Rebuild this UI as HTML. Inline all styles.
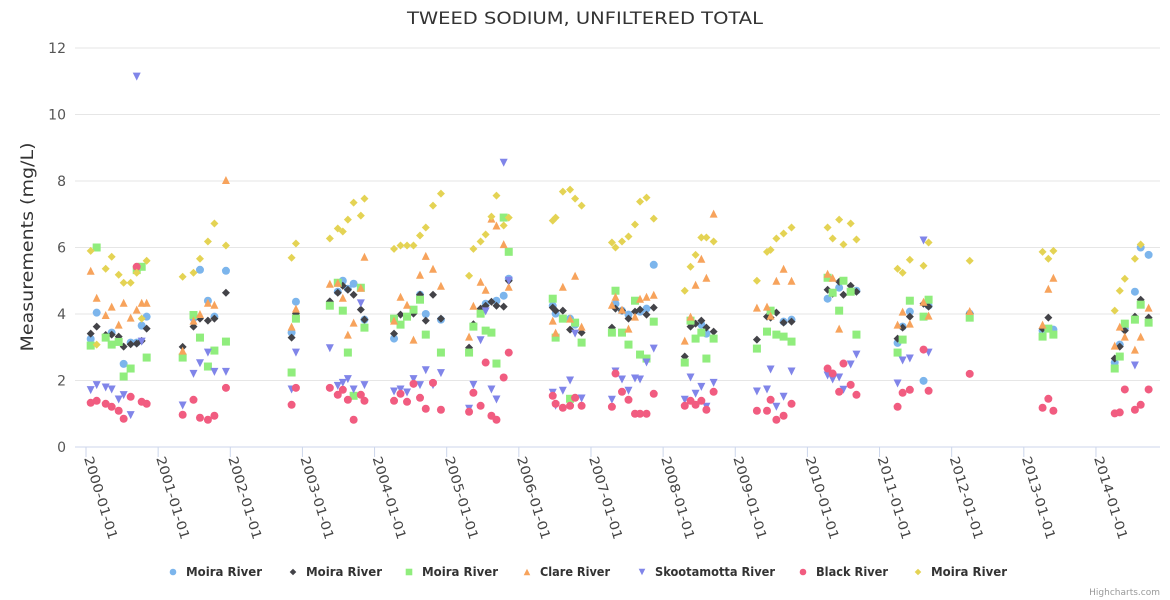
<!DOCTYPE html>
<html><head><meta charset="utf-8"><style>
body{margin:0;background:#fff;font-family:"DejaVu Sans",sans-serif}
svg{display:block;font-family:"DejaVu Sans",sans-serif}
</style></head><body>
<svg id="chart" width="1170" height="600" xmlns="http://www.w3.org/2000/svg">
<rect width="1170" height="600" fill="#fff"/>
<text x="585" y="24" text-anchor="middle" font-size="17" fill="#333" textLength="356" lengthAdjust="spacingAndGlyphs">TWEED SODIUM, UNFILTERED TOTAL</text>
<text transform="translate(33,247) rotate(-90)" text-anchor="middle" font-size="17" fill="#333" textLength="209" lengthAdjust="spacingAndGlyphs">Measurements (mg/L)</text>
<g id="grid"></g><g id="xaxis"></g><g id="marks"></g><g id="legend"></g>
<text x="1160" y="595" text-anchor="end" font-size="9" fill="#999">Highcharts.com</text>
</svg>
<script>
const yTicks=[0,2,4,6,8,10,12];
const xTickLabels=["2000-01-01","2001-01-01","2002-01-01","2003-01-01","2004-01-01","2005-01-01","2006-01-01","2007-01-01","2008-01-01","2009-01-01","2010-01-01","2011-01-01","2012-01-01","2013-01-01","2014-01-01"];
const seriesNames=["Moira River","Moira River","Moira River","Clare River","Skootamotta River","Black River","Moira River"];
const seriesColors=["#7cb5ec","#434348","#90ed7d","#f7a35c","#8085e9","#f15c80","#e4d354"];
const seriesShapes=["circle","diamond","square","triangle","triangle-down","circle","diamond"];
// [decimal year, value]
const moira1=[[2000.065,3.25],[2000.148,4.04],[2000.356,3.44],[2000.522,2.5],[2000.619,3.14],[2000.703,3.14],[2000.772,3.65],[2000.841,3.92],
[2001.49,3.87],[2001.58,5.33],[2001.69,4.4],[2001.78,3.92],[2001.94,5.3],[2002.85,3.44],[2002.91,4.37],
[2003.49,4.67],[2003.56,5.0],[2003.63,4.76],[2003.71,4.91],[2003.86,3.83],[2004.27,3.26],[2004.63,4.58],[2004.71,4.0],[2004.92,3.83],
[2005.54,4.31],[2005.69,4.4],[2005.79,4.55],[2005.86,5.06],[2006.47,4.25],[2006.51,4.01],[2006.71,3.86],[2006.78,3.68],
[2007.34,4.31],[2007.43,4.1],[2007.52,3.98],[2007.68,4.07],[2007.77,4.16],[2007.87,5.48],[2008.38,3.77],[2008.53,3.68],[2008.6,3.41],
[2009.67,3.77],[2009.78,3.83],[2010.28,4.46],[2010.44,4.79],[2010.68,4.7],[2011.25,3.13],[2011.32,3.62],[2011.42,4.07],[2011.61,1.99],[2011.68,4.25],
[2012.25,4.01],[2013.26,3.5],[2013.41,3.53],[2014.26,2.54],[2014.33,3.08],[2014.4,3.56],[2014.54,4.67],[2014.62,6.0],[2014.73,5.78]];
const moira2=[[2000.065,3.41],[2000.148,3.62],[2000.273,3.37],[2000.356,3.38],[2000.453,3.32],[2000.522,3.02],[2000.619,3.09],[2000.703,3.11],[2000.772,3.19],[2000.841,3.56],
[2001.34,3.01],[2001.49,3.62],[2001.58,3.86],[2001.69,3.8],[2001.78,3.86],[2001.94,4.64],[2002.85,3.29],[2002.91,4.01],
[2003.38,4.38],[2003.49,4.64],[2003.56,4.85],[2003.63,4.73],[2003.71,4.58],[2003.81,4.13],[2003.86,3.83],
[2004.27,3.41],[2004.36,3.98],[2004.54,4.01],[2004.63,4.58],[2004.71,3.8],[2004.81,4.58],[2004.92,3.86],
[2005.31,2.99],[2005.37,3.69],[2005.47,4.16],[2005.54,4.25],[2005.62,4.37],[2005.69,4.25],[2005.79,4.22],[2005.86,5.0],
[2006.47,4.19],[2006.51,4.1],[2006.61,4.1],[2006.71,3.53],[2006.87,3.44],
[2007.29,3.59],[2007.34,4.16],[2007.43,4.1],[2007.52,3.86],[2007.61,4.07],[2007.68,4.13],[2007.77,3.98],[2007.87,4.19],
[2008.3,2.72],[2008.38,3.62],[2008.45,3.71],[2008.53,3.8],[2008.6,3.59],[2008.7,3.47],
[2009.3,3.23],[2009.44,3.92],[2009.49,3.89],[2009.57,4.04],[2009.67,3.74],[2009.78,3.77],
[2010.28,4.73],[2010.35,4.61],[2010.44,4.97],[2010.5,4.58],[2010.6,4.85],[2010.68,4.67],
[2011.25,3.26],[2011.32,3.59],[2011.42,3.92],[2011.61,4.31],[2011.68,4.22],[2012.25,4.01],[2013.26,3.56],[2013.34,3.89],
[2014.26,2.66],[2014.33,3.02],[2014.4,3.5],[2014.54,3.92],[2014.62,4.43],[2014.73,3.89]];
const moira3=[[2000.065,3.05],[2000.148,6.0],[2000.273,3.29],[2000.356,3.08],[2000.453,3.16],[2000.522,2.12],[2000.619,2.36],[2000.703,5.32],[2000.772,5.42],[2000.841,2.69],
[2001.34,2.69],[2001.49,3.97],[2001.58,3.29],[2001.69,2.42],[2001.78,2.9],[2001.94,3.17],[2002.85,2.24],[2002.91,3.86],
[2003.38,4.25],[2003.49,4.94],[2003.56,4.1],[2003.63,2.84],[2003.71,1.54],[2003.81,4.79],[2003.86,3.59],
[2004.27,3.86],[2004.36,3.68],[2004.45,3.92],[2004.54,4.13],[2004.63,4.43],[2004.71,3.38],[2004.92,2.84],
[2005.31,2.84],[2005.37,3.62],[2005.47,4.01],[2005.54,3.5],[2005.62,3.44],[2005.69,2.51],[2005.79,6.9],[2005.86,5.87],
[2006.47,4.46],[2006.51,3.29],[2006.61,3.86],[2006.71,1.45],[2006.78,3.74],[2006.87,3.14],
[2007.29,3.44],[2007.34,4.7],[2007.43,3.44],[2007.52,3.08],[2007.61,4.4],[2007.68,2.78],[2007.77,2.66],[2007.87,3.77],
[2008.3,2.54],[2008.38,3.8],[2008.45,3.26],[2008.53,3.44],[2008.6,2.66],[2008.7,3.26],
[2009.3,2.96],[2009.44,3.47],[2009.49,4.1],[2009.57,3.38],[2009.67,3.32],[2009.78,3.17],
[2010.28,5.09],[2010.35,4.64],[2010.44,4.1],[2010.5,5.0],[2010.6,4.67],[2010.68,3.38],
[2011.25,2.84],[2011.32,3.23],[2011.42,4.4],[2011.61,3.92],[2011.68,4.43],[2012.25,3.89],[2013.26,3.32],[2013.34,3.56],[2013.41,3.38],
[2014.26,2.36],[2014.33,2.72],[2014.4,3.71],[2014.54,3.83],[2014.62,4.28],[2014.73,3.74]];
const clare=[[2000.065,5.3],[2000.148,4.49],[2000.273,3.97],[2000.356,4.22],[2000.453,3.68],[2000.522,4.34],[2000.619,3.89],[2000.703,4.13],[2000.772,4.34],[2000.841,4.34],
[2001.34,2.9],[2001.49,3.8],[2001.58,4.0],[2001.69,4.34],[2001.78,4.28],[2001.94,8.03],[2002.85,3.62],[2002.91,4.16],
[2003.38,4.91],[2003.49,4.94],[2003.56,4.49],[2003.63,3.38],[2003.71,3.74],[2003.81,4.79],[2003.86,5.72],
[2004.27,3.8],[2004.36,4.52],[2004.45,4.28],[2004.54,3.23],[2004.63,5.18],[2004.71,5.75],[2004.81,5.36],[2004.92,4.85],
[2005.31,3.32],[2005.37,4.25],[2005.47,4.97],[2005.54,4.73],[2005.62,6.87],[2005.69,6.66],[2005.79,6.1],[2005.86,4.82],
[2006.47,3.8],[2006.51,3.44],[2006.61,4.82],[2006.71,3.86],[2006.78,5.15],[2006.87,3.62],
[2007.29,4.28],[2007.34,4.52],[2007.43,4.13],[2007.52,3.56],[2007.61,3.92],[2007.68,4.46],[2007.77,4.52],[2007.87,4.58],
[2008.3,3.2],[2008.38,3.92],[2008.45,4.88],[2008.53,5.66],[2008.6,5.09],[2008.7,7.02],
[2009.3,4.19],[2009.44,4.22],[2009.49,3.95],[2009.57,5.0],[2009.67,5.36],[2009.78,5.0],
[2010.28,5.21],[2010.35,5.09],[2010.44,3.56],[2011.25,3.68],[2011.32,4.07],[2011.42,3.71],[2011.61,4.37],[2011.68,3.95],
[2012.25,4.09],[2013.26,3.68],[2013.34,4.76],[2013.41,5.09],
[2014.26,3.05],[2014.33,3.62],[2014.4,3.32],[2014.54,2.93],[2014.62,3.32],[2014.73,4.19]];
const skoot=[[2000.065,1.71],[2000.148,1.86],[2000.273,1.79],[2000.356,1.73],[2000.453,1.43],[2000.522,1.56],[2000.619,0.96],[2000.703,11.14],[2000.772,3.17],
[2001.34,1.25],[2001.49,2.2],[2001.58,2.52],[2001.69,2.84],[2001.78,2.26],[2001.94,2.26],[2002.85,1.73],[2002.91,2.84],
[2003.38,2.97],[2003.49,1.84],[2003.56,1.93],[2003.63,2.04],[2003.71,1.73],[2003.81,4.32],[2003.86,1.86],
[2004.27,1.67],[2004.36,1.73],[2004.45,1.64],[2004.54,2.04],[2004.63,1.86],[2004.71,2.31],[2004.81,1.86],[2004.92,2.22],
[2005.31,1.15],[2005.37,1.87],[2005.47,3.21],[2005.54,4.08],[2005.62,1.73],[2005.69,1.43],[2005.79,8.55],[2005.86,5.0],
[2006.47,1.63],[2006.51,1.24],[2006.61,1.69],[2006.71,2.0],[2006.78,3.41],[2006.87,1.46],
[2007.29,1.42],[2007.34,2.27],[2007.43,2.03],[2007.52,1.69],[2007.61,2.06],[2007.68,2.03],[2007.77,2.54],[2007.87,2.96],
[2008.3,1.42],[2008.38,2.09],[2008.45,1.6],[2008.53,1.81],[2008.6,1.21],[2008.7,1.93],
[2009.3,1.67],[2009.44,1.73],[2009.49,2.33],[2009.57,1.21],[2009.67,1.51],[2009.78,2.27],
[2010.28,2.15],[2010.35,2.03],[2010.44,2.09],[2010.5,1.72],[2010.6,2.48],[2010.68,2.78],
[2011.25,1.91],[2011.32,2.6],[2011.42,2.66],[2011.61,6.21],[2011.68,2.84],[2014.54,2.45]];
const black=[[2000.065,1.33],[2000.148,1.39],[2000.273,1.3],[2000.356,1.21],[2000.453,1.09],[2000.522,0.85],[2000.619,1.51],[2000.703,5.42],[2000.772,1.36],[2000.841,1.3],
[2001.34,0.97],[2001.49,1.42],[2001.58,0.88],[2001.69,0.82],[2001.78,0.94],[2001.94,1.78],[2002.85,1.27],[2002.91,1.78],
[2003.38,1.78],[2003.49,1.57],[2003.56,1.72],[2003.63,1.42],[2003.71,0.82],[2003.81,1.57],[2003.86,1.39],
[2004.27,1.39],[2004.36,1.6],[2004.45,1.36],[2004.54,1.9],[2004.63,1.48],[2004.71,1.15],[2004.81,1.93],[2004.92,1.12],
[2005.31,1.06],[2005.37,1.63],[2005.47,1.24],[2005.54,2.54],[2005.62,0.94],[2005.69,0.82],[2005.79,2.09],[2005.86,2.84],
[2006.47,1.54],[2006.51,1.3],[2006.61,1.18],[2006.71,1.24],[2006.78,1.48],[2006.87,1.24],
[2007.29,1.21],[2007.34,2.21],[2007.43,1.66],[2007.52,1.42],[2007.61,1.0],[2007.68,1.0],[2007.77,1.0],[2007.87,1.6],
[2008.3,1.24],[2008.38,1.39],[2008.45,1.27],[2008.53,1.39],[2008.6,1.12],[2008.7,1.66],
[2009.3,1.09],[2009.44,1.09],[2009.49,1.42],[2009.57,0.82],[2009.67,0.94],[2009.78,1.3],
[2010.28,2.36],[2010.35,2.21],[2010.44,1.66],[2010.5,2.51],[2010.6,1.87],[2010.68,1.57],
[2011.25,1.21],[2011.32,1.63],[2011.42,1.72],[2011.61,2.93],[2011.68,1.69],[2012.25,2.2],
[2013.26,1.18],[2013.34,1.45],[2013.41,1.09],[2014.26,1.01],[2014.33,1.04],[2014.4,1.73],[2014.54,1.12],[2014.62,1.27],[2014.73,1.73]];
const moira4=[[2000.065,5.9],[2000.148,3.08],[2000.273,5.36],[2000.356,5.72],[2000.453,5.18],[2000.522,4.94],[2000.619,4.94],[2000.703,5.24],[2000.772,3.86],[2000.841,5.6],
[2001.34,5.12],[2001.49,5.24],[2001.58,5.66],[2001.69,6.18],[2001.78,6.72],[2001.94,6.06],[2002.85,5.69],[2002.91,6.12],
[2003.38,6.27],[2003.49,6.57],[2003.56,6.48],[2003.63,6.84],[2003.71,7.35],[2003.81,6.96],[2003.86,7.47],
[2004.27,5.96],[2004.36,6.06],[2004.45,6.06],[2004.54,6.06],[2004.63,6.36],[2004.71,6.6],[2004.81,7.26],[2004.92,7.62],
[2005.31,5.15],[2005.37,5.96],[2005.47,6.18],[2005.54,6.39],[2005.62,6.93],[2005.69,7.56],[2005.79,6.66],[2005.86,6.9],
[2006.47,6.81],[2006.51,6.9],[2006.61,7.68],[2006.71,7.74],[2006.78,7.47],[2006.87,7.26],
[2007.29,6.15],[2007.34,6.0],[2007.43,6.18],[2007.52,6.33],[2007.61,6.69],[2007.68,7.38],[2007.77,7.5],[2007.87,6.87],
[2008.3,4.7],[2008.38,5.42],[2008.45,5.78],[2008.53,6.3],[2008.6,6.3],[2008.7,6.18],
[2009.3,5.0],[2009.44,5.87],[2009.49,5.93],[2009.57,6.27],[2009.67,6.42],[2009.78,6.6],
[2010.28,6.6],[2010.35,6.27],[2010.44,6.84],[2010.5,6.09],[2010.6,6.72],[2010.68,6.24],
[2011.25,5.36],[2011.32,5.24],[2011.42,5.63],[2011.61,5.45],[2011.68,6.15],[2012.25,5.6],
[2013.26,5.87],[2013.34,5.66],[2013.41,5.9],[2014.26,4.1],[2014.33,4.7],[2014.4,5.06],[2014.54,5.66],[2014.62,6.09]];
const allSeries=[moira1,moira2,moira3,clare,skoot,black,moira4];

const NS="http://www.w3.org/2000/svg";
const L=75,R=1160,T=48,B=447;
const xS=y=>86+(y-2000)*72.14;
const yS=v=>B-(v/12)*(B-T);
function mk(tag,attrs,parent){const e=document.createElementNS(NS,tag);for(const k in attrs)e.setAttribute(k,attrs[k]);parent.appendChild(e);return e;}
const grid=document.getElementById('grid');
yTicks.forEach(t=>{
  const ln=mk('line',{x1:L,x2:R,y1:yS(t),y2:yS(t),stroke:t===0?'#ccd6eb':'#e6e6e6','stroke-width':1},grid);
  
  
  const tx=mk('text',{x:66,y:yS(t)+5,'text-anchor':'end','font-size':14,fill:'#555'},grid);
  tx.textContent=t;
  
  
});
const xa=document.getElementById('xaxis');
xTickLabels.forEach((lab,i)=>{
  const x=xS(2000+i);
  const tk=mk('line',{x1:x,x2:x,y1:B,y2:B+10,stroke:'#ccd6eb'},xa);
  
  
  const tx=mk('text',{transform:`translate(${x-2},${B+11}) rotate(73)`,'font-size':13,fill:'#444',textLength:86,lengthAdjust:'spacingAndGlyphs'},xa);
  tx.textContent=lab;
  
  
});
function shape(kind,cx,cy,color,parent,r){
  r=r||4;let e;
  if(kind==='circle')e=mk('circle',{cx,cy,r,fill:color},parent);
  else if(kind==='diamond')e=mk('path',{d:`M${cx},${cy-r}L${cx+r},${cy}L${cx},${cy+r}L${cx-r},${cy}Z`,fill:color},parent);
  else if(kind==='square')e=mk('rect',{x:cx-r,y:cy-r,width:2*r,height:2*r,fill:color},parent);
  else if(kind==='triangle')e=mk('path',{d:`M${cx},${cy-r}L${cx+r},${cy+r}L${cx-r},${cy+r}Z`,fill:color},parent);
  else e=mk('path',{d:`M${cx-r},${cy-r}L${cx+r},${cy-r}L${cx},${cy+r}Z`,fill:color},parent);
  return e;
}
const marks=document.getElementById('marks');
allSeries.forEach((s,si)=>{
  const g=mk('g',{},marks);
  
  
  s.forEach(p=>{
    const e=shape(seriesShapes[si],xS(p[0]),yS(p[1]),seriesColors[si],g);
    
    
  });
});
const legX=[173,293,409,527,642,803,918];
const legW=[76,76,76,70,120,72,76];
const lg=document.getElementById('legend');
seriesNames.forEach((n,i)=>{
  const g=mk('g',{},lg);
  
  
  shape(seriesShapes[i],legX[i],572,seriesColors[i],g,3.3);
  const t=mk('text',{x:legX[i]+13,y:576,'font-size':12,'font-weight':'bold',fill:'#333',textLength:legW[i],lengthAdjust:'spacingAndGlyphs'},g);
  t.textContent=n;
});
</script>
</body></html>
